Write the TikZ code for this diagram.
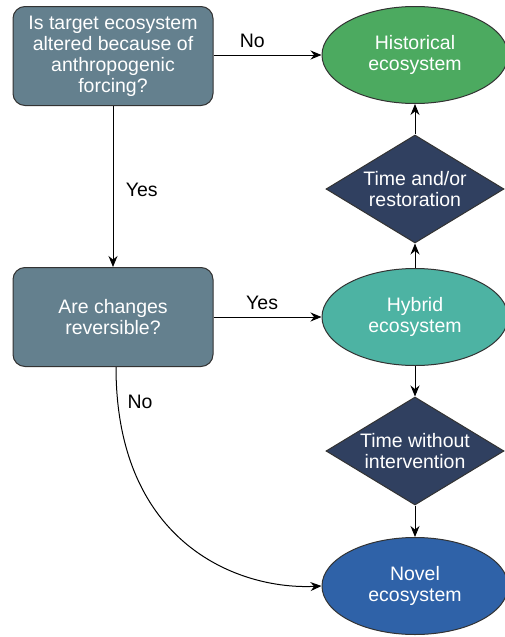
\documentclass[tikz,border=0pt]{standalone}
\usepackage{fontspec}
\setmainfont{Liberation Sans}
\usetikzlibrary{shapes.geometric,arrows.meta}
\definecolor{qgray}{HTML}{64808E}
\definecolor{histgreen}{HTML}{4CAA60}
\definecolor{waynavy}{HTML}{304060}
\definecolor{hybteal}{HTML}{4DB3A3}
\definecolor{novblue}{HTML}{2F62A8}
\tikzset{
	qbox/.style={draw=black!80,line width=1pt,rounded corners=12pt,fill=qgray,
		minimum width=200pt,minimum height=99pt,text=white,align=center,inner sep=0pt},
	endstate/.style={ellipse,draw=black!80,line width=1pt,minimum width=186pt,
		minimum height=97pt,text=white,align=center,inner sep=0pt},
	waystep/.style={diamond,draw=black!80,line width=1pt,fill=waynavy,aspect=1.65,
		minimum width=178pt,minimum height=108pt,text=white,align=center,inner sep=0pt},
	flow/.style={line width=1pt,-{Stealth[length=11pt,width=9pt]}},
	lbl/.style={text=black}
}
\begin{document}
\begin{tikzpicture}[x=1pt,y=-1pt,font=\fontsize{19.5}{21}\selectfont]
	\useasboundingbox (0,0) rectangle (505,637);
	\node[qbox] (altered) at (113,56) {Is target ecosystem\\altered because of\\anthropogenic\\forcing?};
	\node[qbox] (reversible) at (113,317) {Are changes\\reversible?};
	\node[endstate,fill=histgreen] (historical) at (415,55) {Historical\\ecosystem};
	\node[waystep] (restoration) at (415,189) {Time and/or\\restoration};
	\node[endstate,fill=hybteal] (hybrid) at (415,317) {Hybrid\\ecosystem};
	\node[waystep] (nointerv) at (415,451) {Time without\\intervention};
	\node[endstate,fill=novblue] (novel) at (415,586) {Novel\\ecosystem};
	\draw[flow] (altered.east |- historical.west) -- node[lbl,above=3pt,pos=0.36] {No} (historical.west);
	\draw[flow] (altered) -- node[lbl,right=9pt,pos=0.52] {Yes} (reversible);
	\draw[flow] (reversible.east |- hybrid.west) -- node[lbl,above=3pt,pos=0.45] {Yes} (hybrid.west);
	\draw[flow] (hybrid) -- (restoration);
	\draw[flow] (restoration) -- (historical);
	\draw[flow] (hybrid) -- (nointerv);
	\draw[flow] (nointerv) -- (novel);
	\draw[flow] ([xshift=3pt]reversible.south) .. controls (116,545) and (240,590) .. (novel.west);
	\node[lbl] (nolabel) at (140,402) {No};
\end{tikzpicture}
\end{document}
